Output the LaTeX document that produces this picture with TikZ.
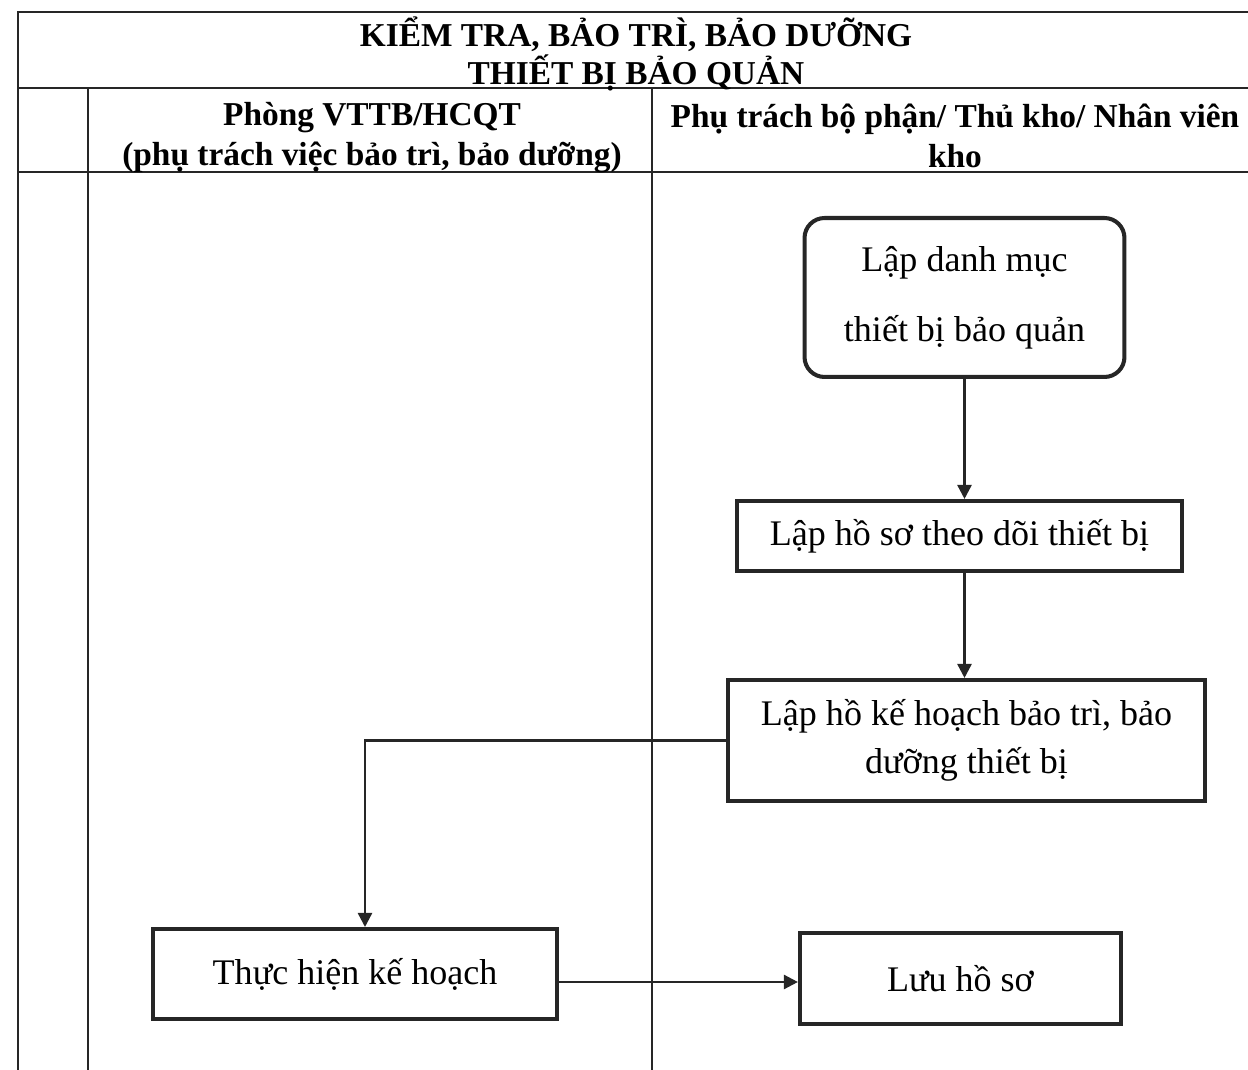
\documentclass[tikz,border=0pt]{standalone}
\usepackage{fontspec}
\setmainfont{Liberation Serif}
\usetikzlibrary{positioning, arrows.meta}

\begin{document}
\begin{tikzpicture}
    [
      x = 0.02cm, y = -0.02cm,
      >={Triangle[length=2.8mm, width=2.8mm]},
      GRID/.style={line width = 1.1pt, black!85},
      HEAD/.style={font=\bfseries\fontsize{19}{22.8}\selectfont, align = center},
      RECT/.style={rectangle, draw=black!85, line width = 2.3pt, align = center, font=\fontsize{20.5}{27.3}\selectfont},
      ROUNDEDRECT/.style={RECT, rounded corners = 4mm},
      FLOW/.style={->, line width = 1.4pt, black!85},
    ]

    \useasboundingbox (0,0) rectangle (1248,1070);
    \draw[GRID] (1248,12) -- (18,12) -- (18,1070);
    \draw[GRID] (18,88) -- (1248,88);
    \draw[GRID] (18,172) -- (1248,172);
    \draw[GRID] (88,88) -- (88,1070);
    \draw[GRID] (652,88) -- (652,1070);

    \node[HEAD, font=\bfseries\fontsize{19}{21.6}\selectfont] (title) at (636,54) {KIỂM TRA, BẢO TRÌ, BẢO DƯỠNG\\THIẾT BỊ BẢO QUẢN};
    \node[HEAD] (laneLeft) at (372,138) {Phòng VTTB/HCQT\\(phụ trách việc bảo trì, bảo dưỡng)};
    \node[HEAD] (laneRight) at (955,136) {Phụ trách bộ phận/ Thủ kho/ Nhân viên\\kho};

    \node[ROUNDEDRECT, minimum width = 6.4cm, minimum height = 3.18cm, font=\fontsize{20.5}{39.8}\selectfont] (danhmuc) at (964.5,297.5) {Lập danh mục\\thiết bị bảo quản};
    \node[RECT, minimum width = 8.9cm, minimum height = 1.4cm] (hoso) [below = 2.4cm of danhmuc, xshift = -0.1cm] {Lập hồ sơ theo dõi thiết bị};
    \node[RECT, minimum width = 9.54cm, minimum height = 2.42cm] (kehoach) [below = 2.1cm of hoso, xshift = 0.14cm] {Lập hồ kế hoạch bảo trì, bảo\\dưỡng thiết bị};
    \node[RECT, minimum width = 8.08cm, minimum height = 1.8cm] (thuchien) at (355,974) {Thực hiện kế hoạch};
    \node[RECT, minimum width = 6.42cm, minimum height = 1.82cm] (luu) [right = 4.78cm of thuchien, yshift = -0.09cm] {Lưu hồ sơ};

    \draw[FLOW] (danhmuc.south) -- (danhmuc.south |- hoso.north);
    \draw[FLOW] (hoso.south -| danhmuc.south) -- (kehoach.north -| danhmuc.south);
    \draw[FLOW] (kehoach.west) -| ([xshift=2mm]thuchien.north);
    \draw[FLOW] ([yshift=-1.6mm]thuchien.east) -- ([yshift=-1.6mm]thuchien.east -| luu.west);

  \end{tikzpicture}
\end{document}
